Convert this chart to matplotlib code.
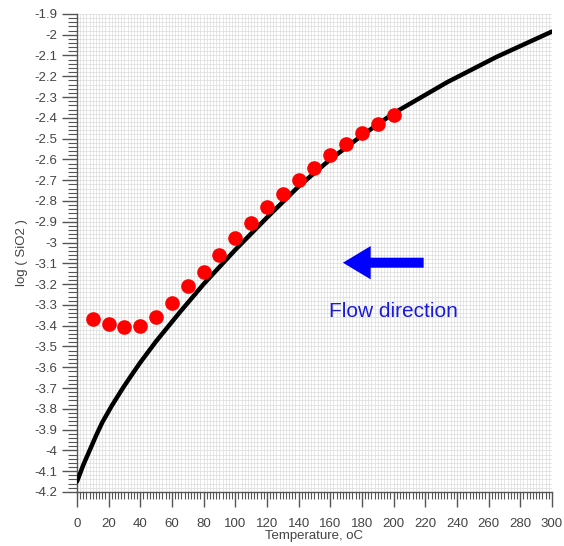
import numpy as np
import matplotlib
matplotlib.use("Agg")
import matplotlib.pyplot as plt
from matplotlib.ticker import MultipleLocator, FuncFormatter

# measured points
temp_pts = [10, 20, 30, 40, 50, 60, 70, 80, 90, 100,
            110, 120, 130, 140, 150, 160, 170, 180, 190, 200]
logsio2_pts = [-3.37, -3.39, -3.405, -3.40, -3.36, -3.29, -3.21, -3.14, -3.06, -2.98,
               -2.905, -2.83, -2.765, -2.70, -2.64, -2.58, -2.525, -2.475, -2.43, -2.385]

# solubility curve
temp_curve = [0, 4, 8, 12, 16, 22, 29, 35, 40, 50, 65, 80, 100, 120, 140,
              160, 180, 200, 234, 265, 300]
logsio2_curve = [-4.15, -4.07, -4.00, -3.93, -3.865, -3.785, -3.70, -3.632, -3.577,
                 -3.475, -3.335, -3.20, -3.035, -2.88, -2.73, -2.60, -2.485, -2.378,
                 -2.228, -2.107, -1.985]

plt.rcParams["font.family"] = ["Liberation Sans", "DejaVu Sans"]

fig = plt.figure(figsize=(5.64, 5.46), dpi=100)
# right edge pulled in a little so the "300" label stays on the canvas
ax = fig.add_axes([0.1365, 0.099, 0.842, 0.8755])

ax.plot(temp_curve, logsio2_curve, color="black", lw=3.2,
        solid_capstyle="round", solid_joinstyle="round", zorder=3)
ax.plot(temp_pts, logsio2_pts, "o", color="#ff0000", ms=9.5, mec="#ff0000", zorder=4)

# flow direction arrow
ax.annotate("", xy=(168, -3.097), xytext=(219, -3.097),
            arrowprops=dict(arrowstyle="simple,head_length=2.0,head_width=2.4,tail_width=0.72",
                            fc="#0000ff", ec="none", shrinkA=0, shrinkB=0,
                            mutation_scale=10), zorder=5)
ax.text(200, -3.33, "Flow direction", color="#1a1ad8", fontsize=15,
        ha="center", va="center", zorder=5)

ax.set_xlim(0, 300)
ax.set_ylim(-4.2, -1.9)
ax.xaxis.set_major_locator(MultipleLocator(20))
ax.xaxis.set_minor_locator(MultipleLocator(2))
ax.yaxis.set_major_locator(MultipleLocator(0.1))
ax.yaxis.set_minor_locator(MultipleLocator(0.02))

ax.yaxis.set_major_formatter(FuncFormatter(lambda v, p: "%g" % round(v, 2)))
ax.xaxis.set_major_formatter(FuncFormatter(lambda v, p: "%d" % round(v)))

ax.grid(True, which="both", color="#dcdcdc", lw=0.5)
ax.set_axisbelow(True)
for s in ("top", "right"):
    ax.spines[s].set_visible(False)
for s in ("left", "bottom"):
    ax.spines[s].set_color("#555555")
    ax.spines[s].set_linewidth(1.0)

ax.tick_params(which="major", length=11, width=1.0, color="#555555",
               labelsize=9.5, labelcolor="#444444")
ax.tick_params(axis="y", which="minor", length=6.5, width=0.8, color="#555555")
ax.tick_params(axis="x", which="minor", length=5, width=0.8, color="#555555")
ax.tick_params(axis="x", which="major", pad=8)
ax.tick_params(axis="y", which="major", pad=3)

ax.set_xlabel("Temperature, oC", fontsize=9.5, color="#444444", labelpad=0)
ax.set_ylabel("log ( SiO2 )", fontsize=9.5, color="#444444", labelpad=5)

fig.savefig("out.png", dpi=100)
